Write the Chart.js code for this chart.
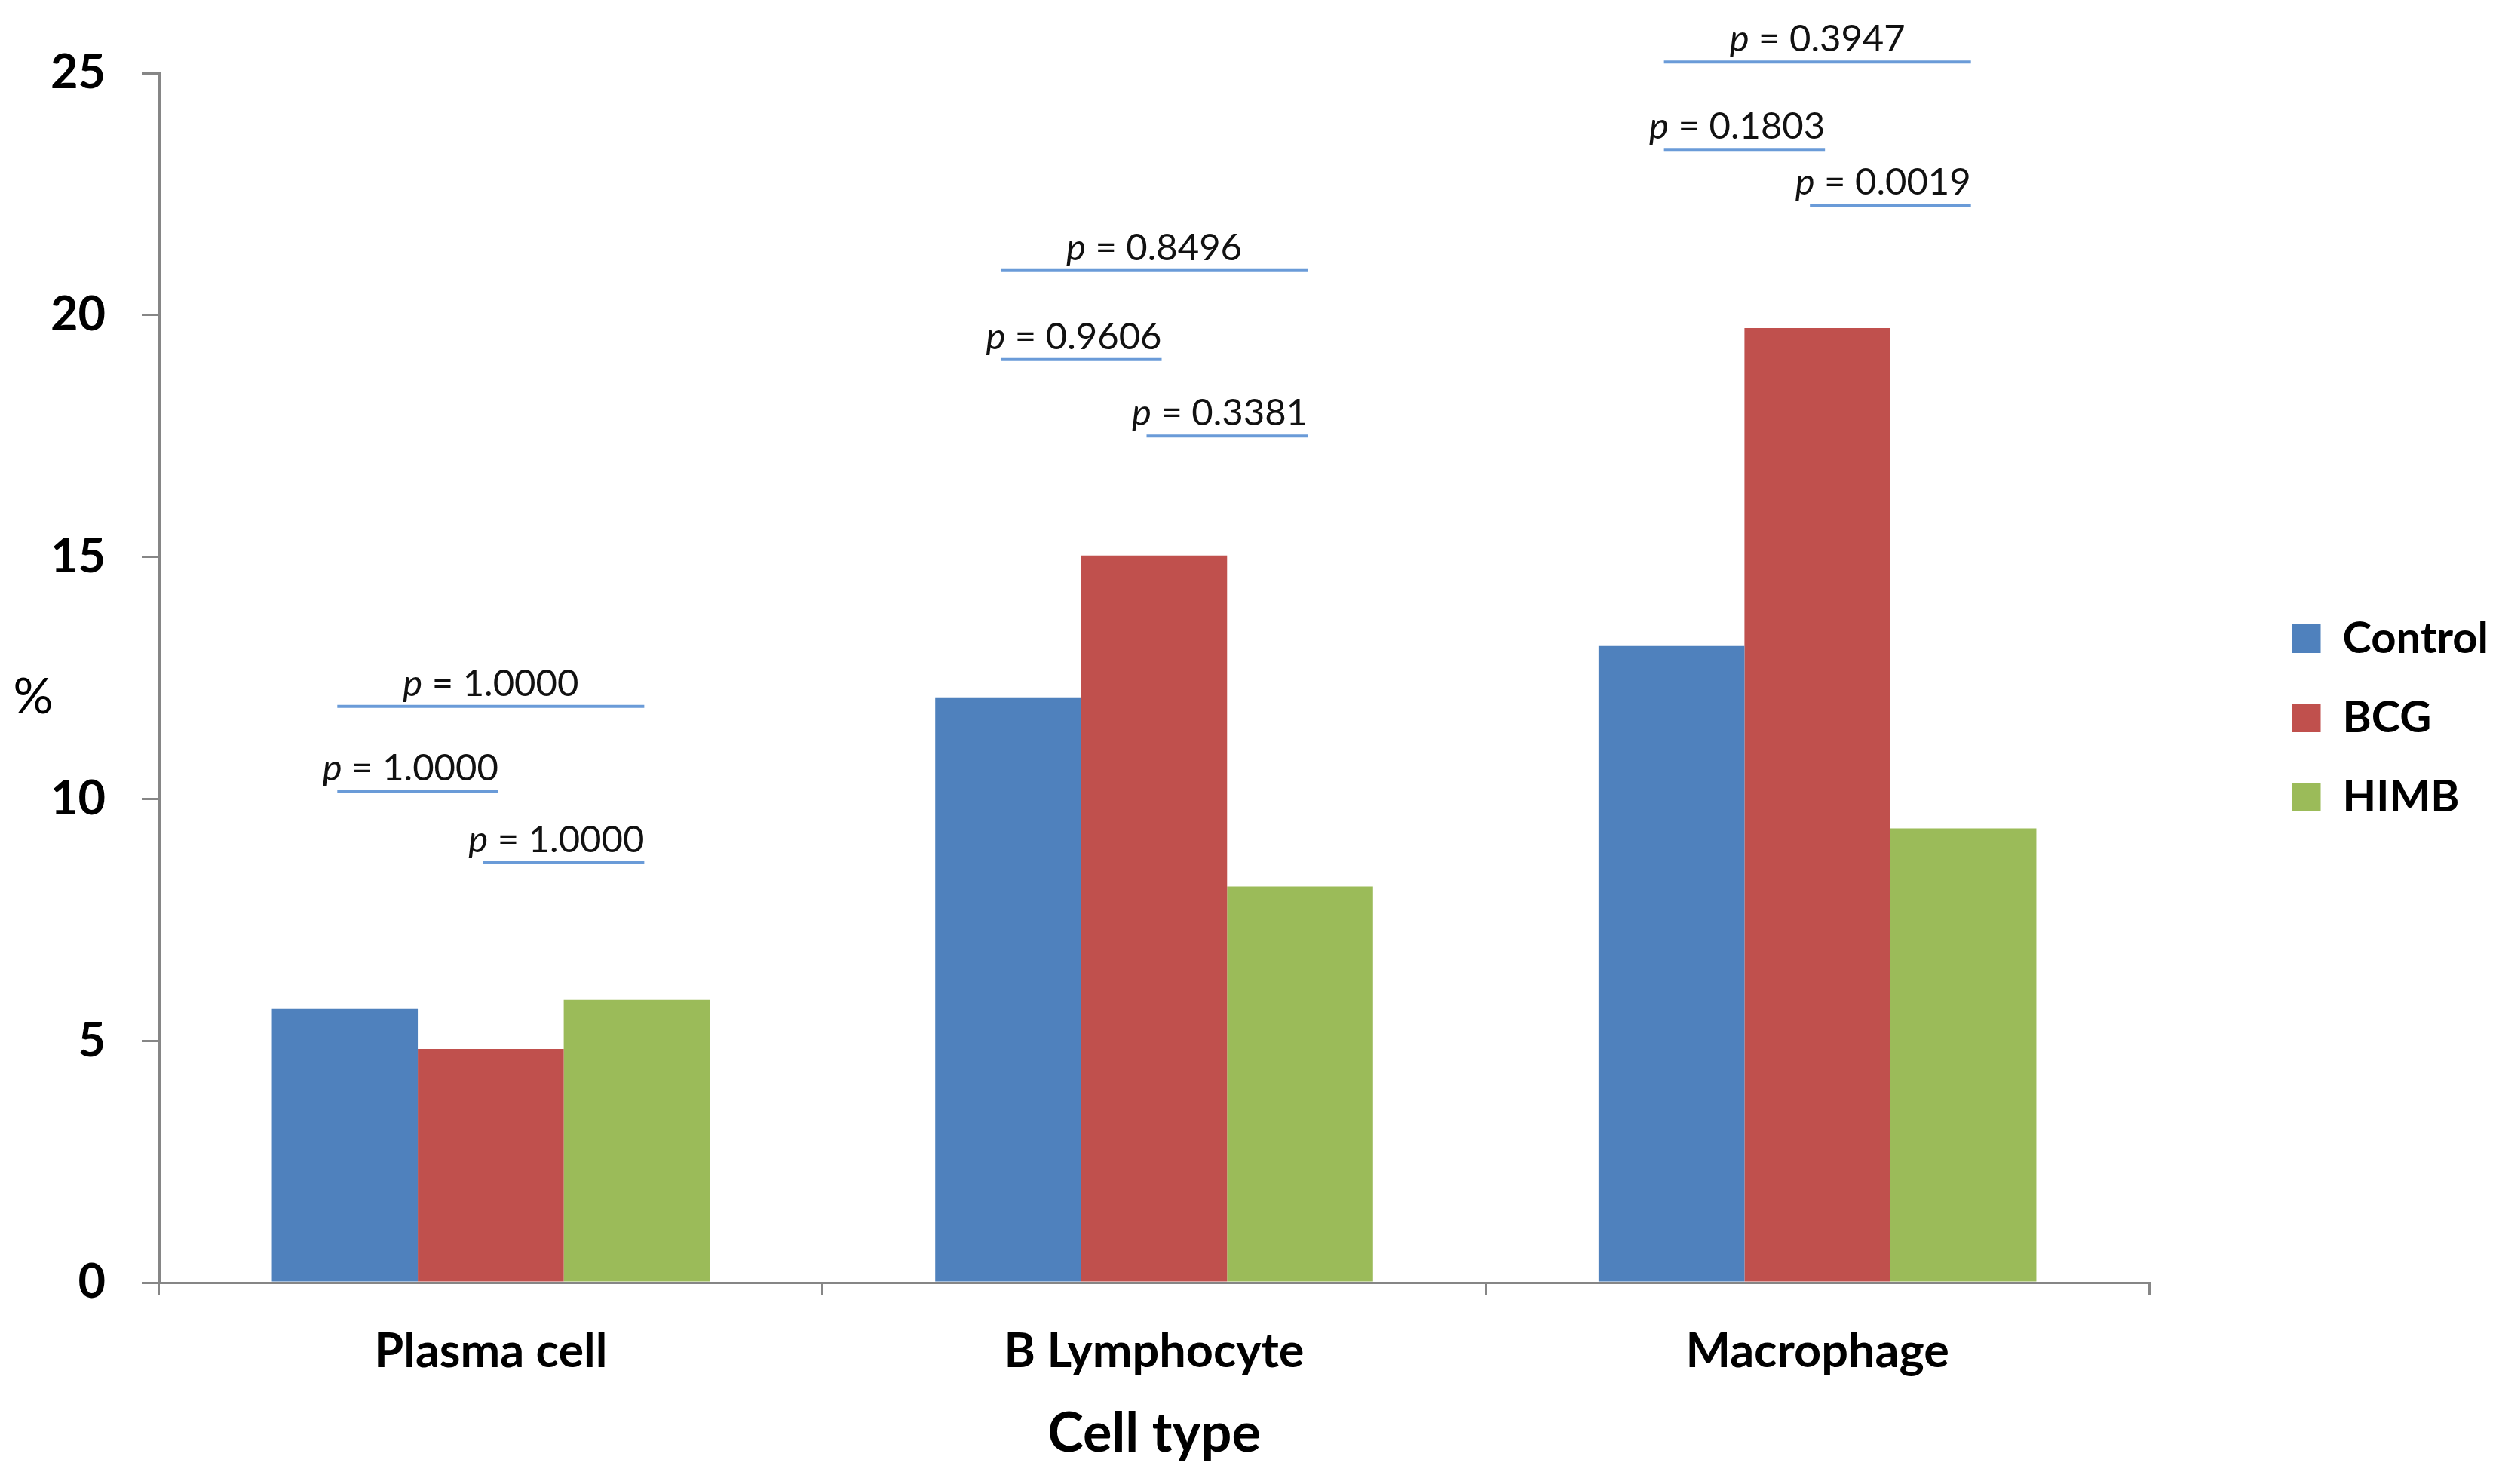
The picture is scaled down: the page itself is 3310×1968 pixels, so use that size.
<!DOCTYPE html>
<html>
<head>
<meta charset="utf-8">
<title>Cell type</title>
<script src="https://cdn.jsdelivr.net/npm/chart.js@4.4.1/dist/chart.umd.min.js"></script>
<style>
  html, body { margin: 0; padding: 0; background: #fff; }
  #wrap { width: 3310px; height: 1968px; position: relative; }
</style>
</head>
<body>
<div id="wrap"><canvas id="chart"></canvas></div>
<script>
"use strict";

// values (%)
const categories = ["Plasma cell", "B Lymphocyte", "Macrophage"];
const seriesNames = ["Control", "BCG", "HIMB"];
const controlValues = [5.66, 12.1, 13.16];
const bcgValues = [4.83, 15.03, 19.73];
const himbValues = [5.85, 8.19, 9.39];
const yTicks = [0, 5, 10, 15, 20, 25];

// p-value brackets: category, first series, last series, height (%), label
const pCategory = [0, 0, 0, 1, 1, 1, 2, 2, 2];
const pFrom = [0, 0, 1, 0, 0, 1, 0, 0, 1];
const pTo = [2, 1, 2, 2, 1, 2, 2, 1, 2];
const pHeight = [11.91, 10.16, 8.68, 20.92, 19.08, 17.5, 25.23, 23.42, 22.27];
const pValues = ["1.0000", "1.0000", "1.0000", "0.8496", "0.9606", "0.3381", "0.3947", "0.1803", "0.0019"];

const colors = ["#4f81bd", "#c0504d", "#9bbb59"];
const axisGrey = "#868686";
const FONT = "Lato";

(function() {
  window.addEventListener("load", init);

  function init() {
    const series = [controlValues, bcgValues, himbValues];
    const datasets = seriesNames.map((name, i) => ({
      label: name,
      data: series[i],
      backgroundColor: colors[i],
      borderWidth: 0,
      yAxisID: "y",
      categoryPercentage: 0.66,
      barPercentage: 1.0
    }));

    new Chart(id("chart"), {
      type: "bar",
      data: { labels: categories, datasets: datasets },
      options: {
        responsive: true,
        maintainAspectRatio: false,
        devicePixelRatio: 1,
        animation: false,
        layout: { padding: { top: 97, left: 0, right: 0, bottom: 0 } },
        plugins: {
          tooltip: { enabled: false },
          legend: {
            position: "right",
            align: "start",
            title: { display: true, text: "", font: { size: 10 }, padding: { top: 662, bottom: 0 } },
            labels: {
              boxWidth: 38,
              boxHeight: 38,
              padding: 47,
              color: "#000",
              font: { family: FONT, size: 58, weight: "bold" }
            }
          }
        },
        scales: {
          x: {
            grid: {
              display: true, drawOnChartArea: false, drawTicks: true,
              tickLength: 17, color: axisGrey, lineWidth: 3, offset: true
            },
            border: { color: axisGrey, width: 3 },
            ticks: { color: "#000", padding: 37, font: { family: FONT, size: 63, weight: "bold" } },
            title: {
              display: true, text: "Cell type", color: "#000",
              font: { family: FONT, size: 72, weight: "bold" },
              padding: { top: 0, bottom: 23 }
            },
            afterFit(s) { s.height = 267; }
          },
          y: {
            min: 0,
            max: 25,
            afterBuildTicks(s) { s.ticks = yTicks.map(v => ({ value: v })); },
            grid: {
              display: true, drawOnChartArea: false, drawTicks: true,
              tickLength: 23, color: axisGrey, lineWidth: 3
            },
            border: { color: axisGrey, width: 3 },
            ticks: { color: "#000", padding: 48, font: { family: FONT, size: 63, weight: "bold" } },
            afterFit(s) { s.width = 211; }
          },
          // empty gap between the plot and the legend
          gap: {
            type: "linear",
            position: "right",
            grid: { display: false },
            border: { display: false },
            ticks: { display: false },
            afterFit(s) { s.width = Math.max(0, 460 - (s.chart.legend ? s.chart.legend.width : 0)); }
          }
        }
      },
      plugins: [pBrackets, yTitle]
    });
  }

  // horizontal "%" title beside the y axis
  const yTitle = {
    id: "yTitle",
    afterDraw(chart) {
      const ctx = chart.ctx;
      const area = chart.chartArea;
      ctx.save();
      ctx.fillStyle = "#000";
      ctx.font = "66px " + FONT;
      ctx.textAlign = "center";
      ctx.textBaseline = "middle";
      ctx.fillText("%", 44, (area.top + area.bottom) / 2 + 26);
      ctx.restore();
    }
  };

  // significance lines with p values
  const pBrackets = {
    id: "pBrackets",
    afterDatasetsDraw(chart) {
      const ctx = chart.ctx;
      const yScale = chart.scales.y;
      ctx.save();
      for (let i = 0; i < pValues.length; i++) {
        const a = chart.getDatasetMeta(pFrom[i]).data[pCategory[i]];
        const b = chart.getDatasetMeta(pTo[i]).data[pCategory[i]];
        const x1 = a.x - 10;
        const x2 = b.x + 10;
        const yy = yScale.getPixelForValue(pHeight[i]);

        ctx.strokeStyle = "#6a9bd8";
        ctx.lineWidth = 4;
        ctx.beginPath();
        ctx.moveTo(x1, yy);
        ctx.lineTo(x2, yy);
        ctx.stroke();

        const rest = " = " + pValues[i];
        ctx.font = "italic 49px " + FONT;
        const wp = ctx.measureText("p").width;
        ctx.font = "49px " + FONT;
        const wr = ctx.measureText(rest).width;
        const total = wp + wr;
        const start = (pTo[i] - pFrom[i] === 1) ? x2 - total : (x1 + x2) / 2 - total / 2;
        const base = yy - 14;

        ctx.fillStyle = "#111";
        ctx.textAlign = "left";
        ctx.textBaseline = "alphabetic";
        ctx.font = "italic 49px " + FONT;
        ctx.fillText("p", start, base);
        ctx.font = "49px " + FONT;
        ctx.fillText(rest, start + wp, base);
      }
      ctx.restore();
    }
  };

  function id(name) {
    return document.getElementById(name);
  }
})();
</script>
</body>
</html>
